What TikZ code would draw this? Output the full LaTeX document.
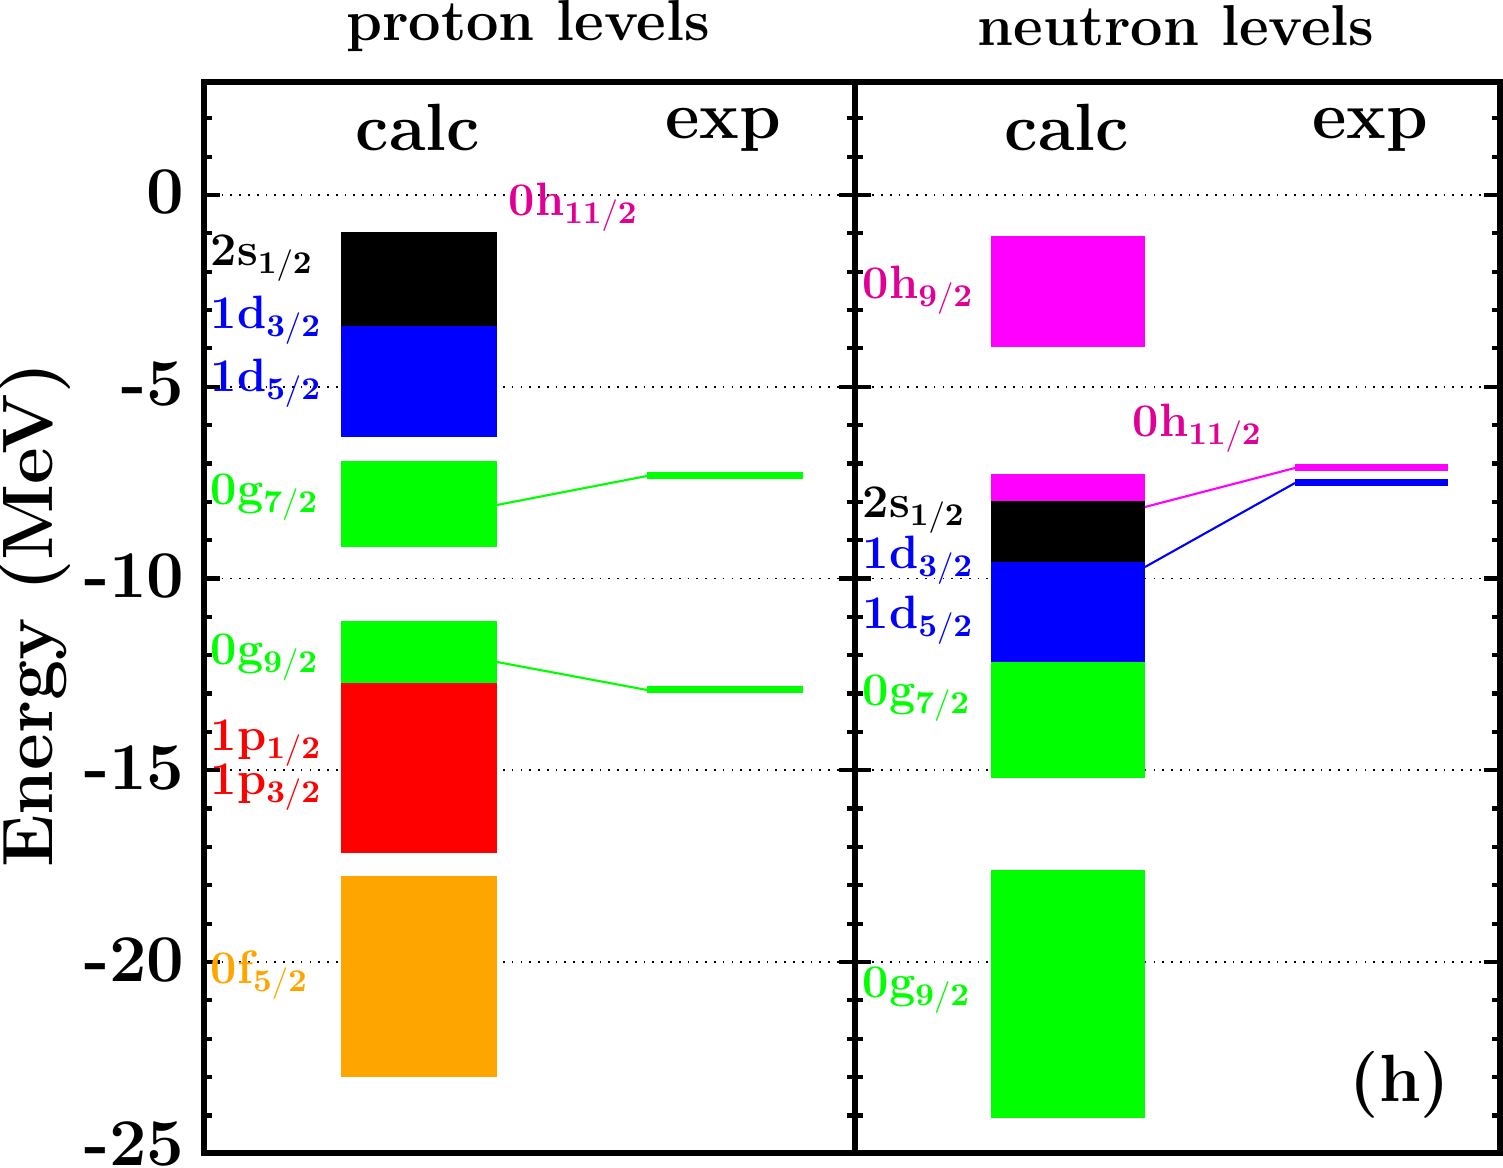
\documentclass[tikz,border=0pt]{standalone}
\begin{document}
\begin{tikzpicture}[x=0.01cm,y=-0.01cm,font=\bfseries,
  lab/.style={anchor=west,inner sep=0pt,font=\bfseries\fontsize{13.3}{15}\selectfont},
  tl/.style={anchor=east,inner sep=0pt,font=\bfseries\fontsize{19}{22}\selectfont},
  hd/.style={inner sep=0pt,font=\bfseries\fontsize{19}{22}\selectfont},
  ttl/.style={inner sep=0pt,font=\bfseries\fontsize{16.4}{18}\selectfont},
  expl/.style={line width=0.07cm},
  conn/.style={line width=0.6pt}]
\definecolor{gr}{RGB}{0,255,0}
\definecolor{mg}{RGB}{255,0,255}
\definecolor{mglab}{RGB}{225,0,150}
\definecolor{org}{RGB}{255,165,0}
\useasboundingbox (0,0) rectangle (1503,1168);
% grid
\foreach \e in {0,5,10,15,20}
  \draw[dotted,line width=0.5pt] (204,{195+38.35*\e}) -- (1500,{195+38.35*\e});
% left bars
\fill[black] (341,232) rectangle (497,326);
\fill[blue] (341,326) rectangle (497,437);
\fill[gr] (341,461) rectangle (497,547);
\fill[gr] (341,621) rectangle (497,683);
\fill[red] (341,683) rectangle (497,853);
\fill[org] (341,876) rectangle (497,1077);
\coordinate (lgA) at (497,505); \coordinate (lgB) at (647,476);
\coordinate (lgC) at (497,662); \coordinate (lgD) at (647,690);
\draw[gr,expl] (647,476) -- (803,476);
\draw[gr,expl] (647,690) -- (803,690);
\draw[gr,conn] (lgA) -- (lgB);
\draw[gr,conn] (lgC) -- (lgD);
% right bars
\fill[mg] (991,236) rectangle (1145,347);
\fill[mg] (991,474) rectangle (1145,501);
\fill[black] (991,501) rectangle (1145,562);
\fill[blue] (991,562) rectangle (1145,662);
\fill[gr] (991,662) rectangle (1145,778);
\fill[gr] (991,870) rectangle (1145,1118);
\draw[mg,expl] (1295,468) -- (1448,468);
\draw[blue,expl] (1295,483) -- (1448,483);
\coordinate (rmA) at (1145,507); \coordinate (rmB) at (1295,468);
\coordinate (rbA) at (1145,567); \coordinate (rbB) at (1295,483);
\draw[mg,conn] (rmA) -- (rmB);
\draw[blue,conn] (rbA) -- (rbB);
% frame
\draw[line width=1.6pt] (204,82) rectangle (1500,1153);
\draw[line width=1.6pt] (855,82) -- (855,1153);
% ticks
\foreach \e in {-2,...,24}{
  \pgfmathsetmacro{\yy}{195+38.35*\e}
  \pgfmathtruncatemacro{\m}{mod(abs(\e),5)}
  \ifnum\m=0 \def\tk{16}\else\def\tk{8}\fi
  \draw[line width=1.2pt] (204,\yy) -- ++(\tk,0);
  \draw[line width=1.2pt] (855-\tk,\yy) -- (855+\tk,\yy);
  \draw[line width=1.2pt] (1500,\yy) -- ++(-\tk,0);
}
% tick labels
\node[tl] (t0) at (185,192) {0};
\node[tl] (t5) at (185,384) {-5};
\node[tl] (t10) at (185,576) {-10};
\node[tl] (t15) at (185,768) {-15};
\node[tl] (t20) at (185,960) {-20};
\node[tl] (t25) at (185,1144) {-25};
\node[rotate=90,inner sep=0pt,font=\bfseries\fontsize{20.3}{22}\selectfont] (yl) at (35,615) {Energy (MeV)};
% headings
\node[ttl] (pl) at (528,26) {proton levels};
\node[ttl] (nl) at (1176,26) {neutron levels};
\node[hd] (c1) at (418,128) {calc};
\node[hd] (e1) at (723,130) {exp};
\node[hd] (c2) at (1067,128) {calc};
\node[hd] (e2) at (1370,130) {exp};
\node[hd] (h) at (1400,1085) {(h)};
% left labels
\node[lab,black] (l1) at (210,258) {2s$_{\mathbf{1/2}}$};
\node[lab,blue] (l2) at (210,320) {1d$_{\mathbf{3/2}}$};
\node[lab,blue] (l3) at (210,383) {1d$_{\mathbf{5/2}}$};
\node[lab,gr] (l4) at (210,497) {0g$_{\mathbf{7/2}}$};
\node[lab,gr] (l5) at (210,657) {0g$_{\mathbf{9/2}}$};
\node[lab,red] (l6) at (210,743) {1p$_{\mathbf{1/2}}$};
\node[lab,red] (l7) at (210,787) {1p$_{\mathbf{3/2}}$};
\node[lab,org] (l8) at (210,975) {0f$_{\mathbf{5/2}}$};
\node[lab,mglab] (l9) at (508,207) {0h$_{\mathbf{11/2}}$};
% right labels
\node[lab,mglab] (r1) at (862,290) {0h$_{\mathbf{9/2}}$};
\node[lab,mglab] (r2) at (1132,428) {0h$_{\mathbf{11/2}}$};
\node[lab,black] (r3) at (862,510) {2s$_{\mathbf{1/2}}$};
\node[lab,blue] (r4) at (862,560) {1d$_{\mathbf{3/2}}$};
\node[lab,blue] (r5) at (862,620) {1d$_{\mathbf{5/2}}$};
\node[lab,gr] (r6) at (862,698) {0g$_{\mathbf{7/2}}$};
\node[lab,gr] (r7) at (862,990) {0g$_{\mathbf{9/2}}$};
\end{tikzpicture}
\end{document}
